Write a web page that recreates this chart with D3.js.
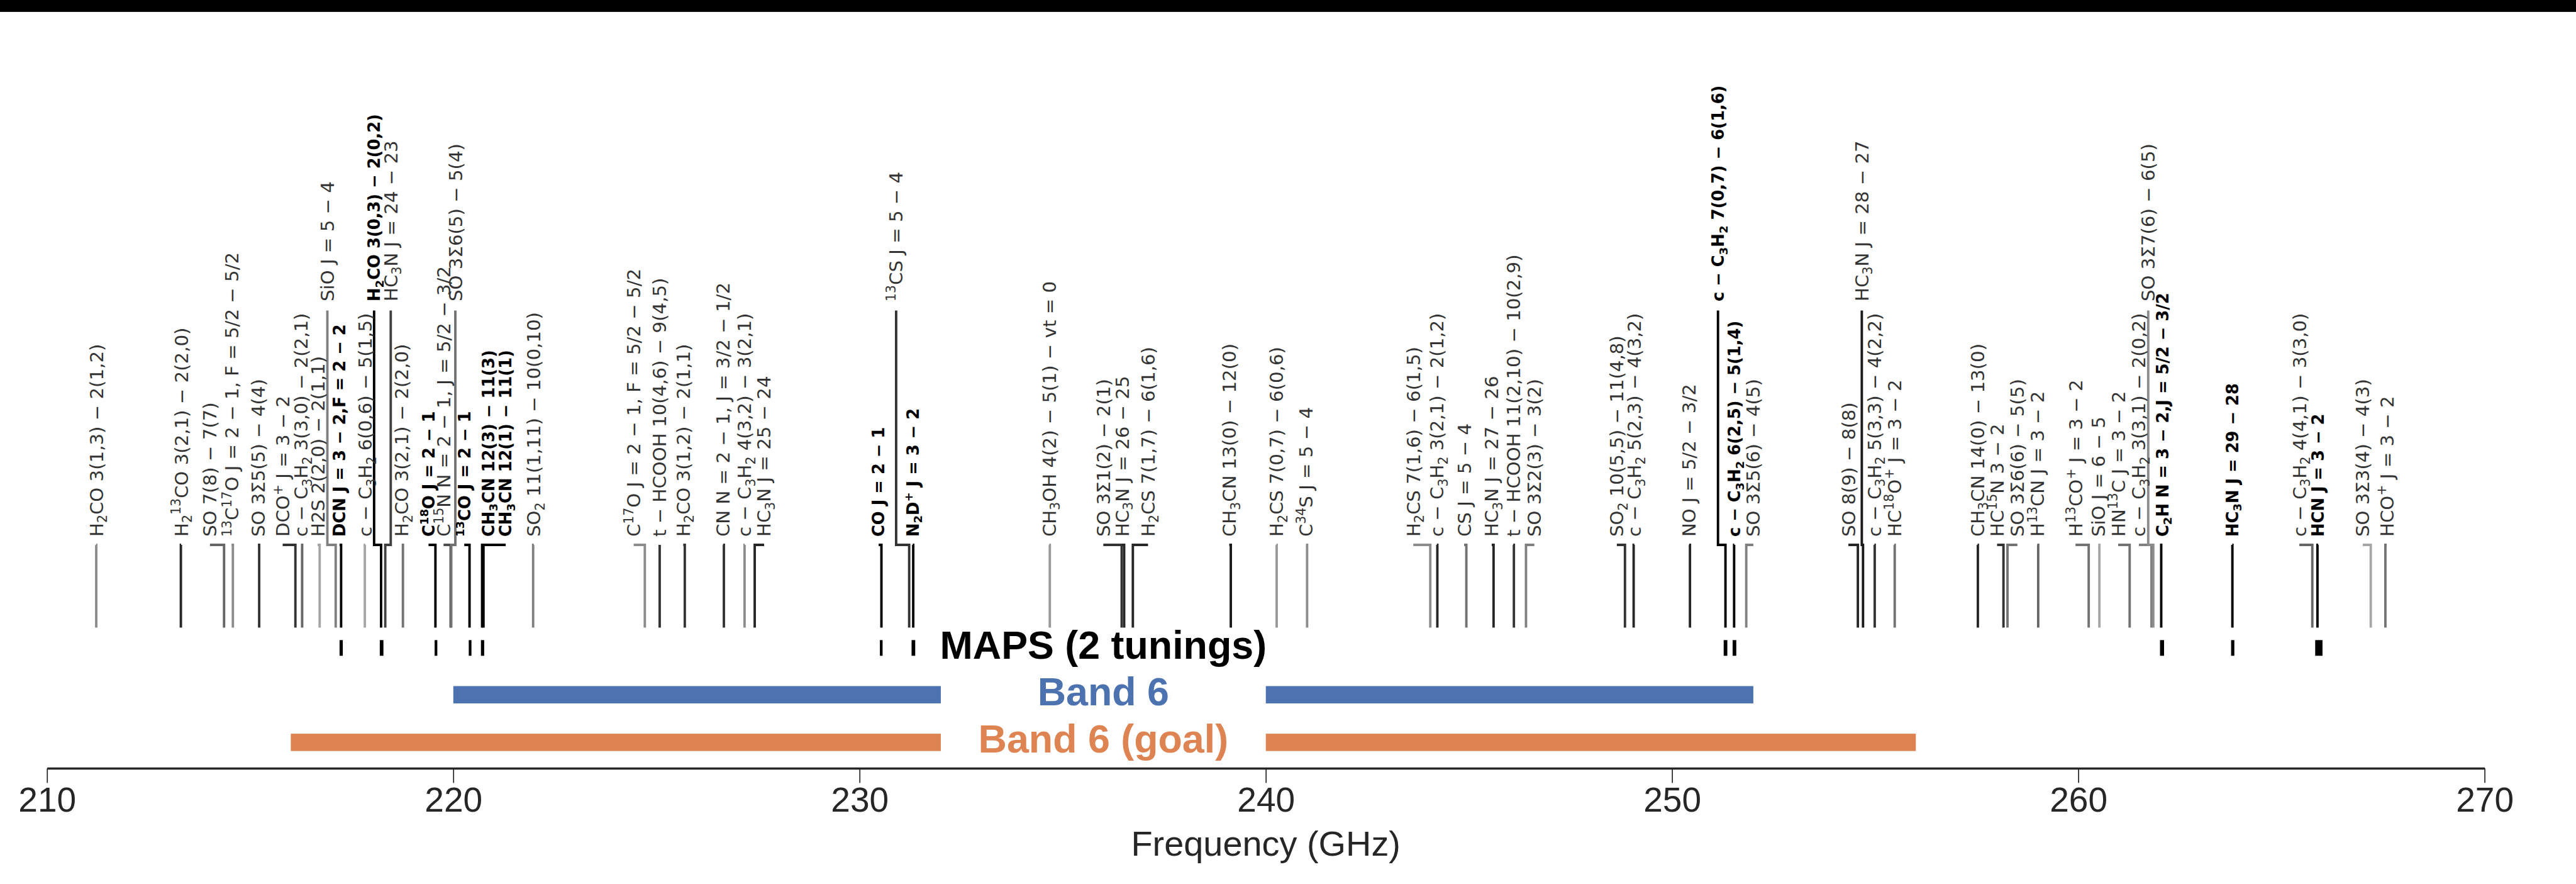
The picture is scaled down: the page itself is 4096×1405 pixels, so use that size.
<!DOCTYPE html>
<html>
<head>
<meta charset="utf-8">
<script src="https://cdn.jsdelivr.net/npm/d3@7"></script>
<style>
  body { margin: 0; background: #fff; }
  svg { display: block; }
</style>
</head>
<body>
<svg id="chart"></svg>
<script>
"use strict";

// ---- data -------------------------------------------------------------
// rest frequencies (GHz) of the marked lines
const lineFreqs = [211.211, 213.294, 214.357, 214.574, 215.221, 216.113, 216.279, 216.710, 217.105, 217.238,
  217.822, 218.222, 218.325, 218.760, 219.560, 219.934, 219.949, 220.399, 220.709, 220.743,
  221.965, 224.714, 225.080, 225.698, 226.660, 227.169, 227.419, 230.538, 231.221, 231.321,
  234.683, 236.452, 236.513, 236.727, 239.138, 240.267, 241.016, 244.048, 244.222, 244.936,
  245.606, 246.106, 246.404, 248.840, 249.054, 250.440, 251.314, 251.527, 251.826, 254.573,
  254.700, 254.988, 255.480, 257.527, 258.157, 258.256, 259.012, 260.255, 260.518, 261.263,
  261.800, 261.844, 262.040, 263.792, 265.759, 265.886, 267.198, 267.558];

const lineLabels = [
  "H_2CO 3(1,3) − 2(1,2)", "H_2^{13}CO 3(2,1) − 2(2,0)", "SO 7(8) − 7(7)",
  "^{13}C^{17}O J = 2 − 1, F = 5/2 − 5/2", "SO 3Σ5(5) − 4(4)", "DCO^+ J = 3 − 2",
  "c − C_3H_2 3(3,0) − 2(2,1)", "H2S 2(2,0) − 2(1,1)", "SiO J = 5 − 4",
  "DCN J = 3 − 2,F = 2 − 2", "c − C_3H_2 6(0,6) − 5(1,5)", "H_2CO 3(0,3) − 2(0,2)",
  "HC_3N J = 24 − 23", "H_2CO 3(2,1) − 2(2,0)", "C^{18}O J = 2 − 1",
  "C^{15}N N = 2 − 1, J = 5/2 − 3/2", "SO 3Σ6(5) − 5(4)", "^{13}CO J = 2 − 1",
  "CH_3CN 12(3) − 11(3)", "CH_3CN 12(1) − 11(1)", "SO_2 11(1,11) − 10(0,10)",
  "C^{17}O J = 2 − 1, F = 5/2 − 5/2", "t − HCOOH 10(4,6) − 9(4,5)", "H_2CO 3(1,2) − 2(1,1)",
  "CN N = 2 − 1, J = 3/2 − 1/2", "c − C_3H_2 4(3,2) − 3(2,1)", "HC_3N J = 25 − 24",
  "CO J = 2 − 1", "^{13}CS J = 5 − 4", "N_2D^+ J = 3 − 2",
  "CH_3OH 4(2) − 5(1) − vt = 0", "SO 3Σ1(2) − 2(1)", "HC_3N J = 26 − 25",
  "H_2CS 7(1,7) − 6(1,6)", "CH_3CN 13(0) − 12(0)", "H_2CS 7(0,7) − 6(0,6)",
  "C^{34}S J = 5 − 4", "H_2CS 7(1,6) − 6(1,5)", "c − C_3H_2 3(2,1) − 2(1,2)",
  "CS J = 5 − 4", "HC_3N J = 27 − 26", "t − HCOOH 11(2,10) − 10(2,9)",
  "SO 3Σ2(3) − 3(2)", "SO_2 10(5,5) − 11(4,8)", "c − C_3H_2 5(2,3) − 4(3,2)",
  "NO J = 5/2 − 3/2", "c − C_3H_2 7(0,7) − 6(1,6)", "c − C_3H_2 6(2,5) − 5(1,4)",
  "SO 3Σ5(6) − 4(5)", "SO 8(9) − 8(8)", "HC_3N J = 28 − 27",
  "c − C_3H_2 5(3,3) − 4(2,2)", "HC^{18}O^+ J = 3 − 2", "CH_3CN 14(0) − 13(0)",
  "HC^{15}N 3 − 2", "SO 3Σ6(6) − 5(5)", "H^{13}CN J = 3 − 2",
  "H^{13}CO^+ J = 3 − 2", "SiO J = 6 − 5", "HN^{13}C J = 3 − 2",
  "c − C_3H_2 3(3,1) − 2(0,2)", "SO 3Σ7(6) − 6(5)", "C_2H N = 3 − 2,J = 5/2 − 3/2",
  "HC_3N J = 29 − 28", "c − C_3H_2 4(4,1) − 3(3,0)", "HCN J = 3 − 2",
  "SO 3Σ3(4) − 4(3)", "HCO^+ J = 3 − 2"
];

// where each label sits along the frequency axis (GHz)
const labelFreqs = [211.21, 213.30, 214.01, 214.54, 215.19, 215.80, 216.25, 216.66, 216.90, 217.20,
  217.83, 218.05, 218.46, 218.73, 219.39, 219.76, 220.05, 220.27, 220.86, 221.29,
  221.98, 224.44, 225.08, 225.66, 226.64, 227.17, 227.65, 230.47, 230.90, 231.31,
  234.67, 236.00, 236.46, 237.10, 239.10, 240.26, 240.99, 243.63, 244.21, 244.88,
  245.56, 246.09, 246.61, 248.64, 249.07, 250.42, 251.13, 251.53, 252.00, 254.34,
  254.67, 254.98, 255.47, 257.52, 258.00, 258.50, 258.99, 259.93, 260.49, 260.98,
  261.49, 261.72, 262.07, 263.79, 265.44, 265.90, 267.00, 267.59];

// 0 = lower label row, 1 = upper label row
const labelTiers = [0, 0, 0, 0, 0, 0, 0, 0, 1, 0,
  0, 1, 1, 0, 0, 0, 1, 0, 0, 0,
  0, 0, 0, 0, 0, 0, 0, 0, 1, 0,
  0, 0, 0, 0, 0, 0, 0, 0, 0, 0,
  0, 0, 0, 0, 0, 0, 1, 0, 0, 0,
  1, 0, 0, 0, 0, 0, 0, 0, 0, 0,
  0, 1, 0, 0, 0, 0, 0, 0];

// relative line strength (drawn as grey level)
const lineStrength = [0.45, 0.85, 0.6, 0.45, 0.8, 0.8, 0.6, 0.35, 0.5, 1.0,
  0.35, 1.0, 0.75, 0.55, 1.0, 0.7, 0.55, 1.0, 1.0, 1.0,
  0.5, 0.45, 0.8, 0.8, 0.8, 0.45, 0.85, 1.0, 0.8, 1.0,
  0.4, 0.8, 0.85, 0.85, 0.9, 0.4, 0.45, 0.45, 0.85, 0.55,
  0.85, 0.8, 0.5, 0.8, 0.85, 0.85, 1.0, 1.0, 0.5, 0.85,
  0.9, 0.8, 0.55, 0.85, 0.8, 0.55, 0.6, 0.55, 0.35, 0.55,
  0.5, 0.45, 1.0, 1.0, 0.6, 1.0, 0.35, 0.55];

// 1 = targeted by MAPS (bold label)
const inMaps = [0, 0, 0, 0, 0, 0, 0, 0, 0, 1,
  0, 1, 0, 0, 1, 0, 0, 1, 1, 1,
  0, 0, 0, 0, 0, 0, 0, 1, 0, 1,
  0, 0, 0, 0, 0, 0, 0, 0, 0, 0,
  0, 0, 0, 0, 0, 0, 1, 1, 0, 0,
  0, 0, 0, 0, 0, 0, 0, 0, 0, 0,
  0, 0, 1, 1, 0, 1, 0, 0];

// MAPS spectral windows (GHz)
const mapsWindows = [[217.20, 217.28], [218.19, 218.28], [219.54, 219.60], [220.38, 220.43],
  [220.68, 220.76], [230.50, 230.56], [231.28, 231.37], [251.27, 251.36], [251.49, 251.58],
  [262.01, 262.11], [263.76, 263.84], [265.83, 266.01]];

const band6Ranges = [[220, 232], [240, 252]];
const band6GoalRanges = [[216, 232], [240, 256]];
const tickValues = [210, 220, 230, 240, 250, 260, 270];

// ---- layout (reference pixels, scaled down as a whole) ----------------
const W = 4763, H = 1634;
const scale = 4096 / W;
const yLineTop = 1007, yLineBot = 1160;
const yLabelStart = [992, 557];
const yLeaderTop = [1007, 574];
const yAxis = 1420;
const labelSize = 34, boldSize = 30;

const svg = d3.select("#chart").attr("width", 4096).attr("height", 1405);
const g = svg.append("g").attr("transform", `scale(${scale})`);

g.append("rect").attr("x", 0).attr("y", 0).attr("width", W).attr("height", 22).attr("fill", "#000");

let x = d3.scaleLinear().domain([210, 270]).range([87, 4594]);
let shade = d3.scaleLinear().domain([0, 1]).range(["#ffffff", "#000000"]);

let rows = lineFreqs.map((f, i) => ({
  freq: f, label: lineLabels[i], labelFreq: labelFreqs[i], tier: labelTiers[i],
  strength: lineStrength[i], maps: inMaps[i]
}));

// lines + leaders
let lineGen = d3.line();
g.append("g").selectAll("path")
  .data(rows)
  .enter()
  .append("path")
    .attr("d", d => {
      let lx = x(d.labelFreq), fx = x(d.freq);
      let pts = [[lx, yLeaderTop[d.tier]], [lx, yLineTop], [fx, yLineTop], [fx, yLineBot]];
      return lineGen(pts);
    })
    .attr("fill", "none")
    .attr("stroke", d => shade(d.strength))
    .attr("stroke-width", 4.5)
    .attr("stroke-linejoin", "miter");

// parse "H_2^{13}CO" style markup into runs
function parseLabel(s) {
  let parts = [], buf = "", i = 0;
  while (i < s.length) {
    let c = s[i];
    if (c === "_" || c === "^") {
      if (buf) { parts.push({ t: buf, k: 0 }); buf = ""; }
      let txt;
      if (s[i + 1] === "{") { let j = s.indexOf("}", i); txt = s.slice(i + 2, j); i = j + 1; }
      else { txt = s[i + 1]; i += 2; }
      parts.push({ t: txt, k: c === "_" ? -1 : 1 });
    } else { buf += c; i++; }
  }
  if (buf) parts.push({ t: buf, k: 0 });
  return parts;
}

let labels = g.append("g").selectAll("text")
  .data(rows)
  .enter()
  .append("text")
    .attr("transform", d => {
      let fs = d.maps ? boldSize : labelSize;
      return `translate(${x(d.labelFreq) + fs * 0.36},${yLabelStart[d.tier]}) rotate(-90)`;
    })
    .attr("font-family", "DejaVu Sans")
    .attr("font-weight", d => d.maps ? "bold" : "normal")
    .attr("fill", d => d.maps ? "#000" : "#333")
    .style("white-space", "pre");

labels.each(function(d) {
  let el = d3.select(this);
  let fs = d.maps ? boldSize : labelSize;
  let offset = 0;
  parseLabel(d.label).forEach(p => {
    let target = p.k === -1 ? fs * 0.22 : p.k === 1 ? -fs * 0.38 : 0;
    el.append("tspan")
      .attr("dy", target - offset)
      .attr("font-size", p.k ? fs * 0.7 : fs)
      .text(p.t);
    offset = target;
  });
});

// MAPS windows
g.append("g").selectAll("rect")
  .data(mapsWindows)
  .enter()
  .append("rect")
    .attr("x", d => x(d[0]))
    .attr("y", 1183)
    .attr("width", d => Math.max(5, x(d[1]) - x(d[0])))
    .attr("height", 29)
    .attr("fill", "#000");

// band coverage bars
function bandBars(ranges, yc, color) {
  g.append("g").selectAll("rect")
    .data(ranges)
    .enter()
    .append("rect")
      .attr("x", d => x(d[0]))
      .attr("y", yc - 16)
      .attr("width", d => x(d[1]) - x(d[0]))
      .attr("height", 32)
      .attr("fill", color);
}
bandBars(band6Ranges, 1284, "#4c72b0");
bandBars(band6GoalRanges, 1372, "#dd8452");

const legendItems = [
  { text: "MAPS (2 tunings)", y: 1217, color: "#000" },
  { text: "Band 6", y: 1304, color: "#4c72b0" },
  { text: "Band 6 (goal)", y: 1391, color: "#dd8452" }
];
g.append("g").selectAll("text")
  .data(legendItems)
  .enter()
  .append("text")
    .attr("x", x(236))
    .attr("y", d => d.y)
    .attr("text-anchor", "middle")
    .attr("font-family", "Liberation Sans, Arial, sans-serif")
    .attr("font-weight", "bold")
    .attr("font-size", 73)
    .attr("fill", d => d.color)
    .text(d => d.text);

// axis
let axis = g.append("g")
  .attr("transform", `translate(0,${yAxis})`)
  .call(d3.axisBottom(x).tickValues(tickValues).tickSize(27).tickSizeOuter(0).tickPadding(8));
axis.select(".domain").attr("stroke", "#262626").attr("stroke-width", 4);
axis.selectAll(".tick line").attr("stroke", "#262626").attr("stroke-width", 2);
axis.selectAll(".tick text")
  .attr("font-family", "Liberation Sans, Arial, sans-serif")
  .attr("font-size", 64)
  .attr("fill", "#262626");

g.append("text")
  .attr("x", x(240))
  .attr("y", 1582)
  .attr("text-anchor", "middle")
  .attr("font-family", "Liberation Sans, Arial, sans-serif")
  .attr("font-size", 65)
  .attr("fill", "#262626")
  .text("Frequency (GHz)");
</script>
</body>
</html>
